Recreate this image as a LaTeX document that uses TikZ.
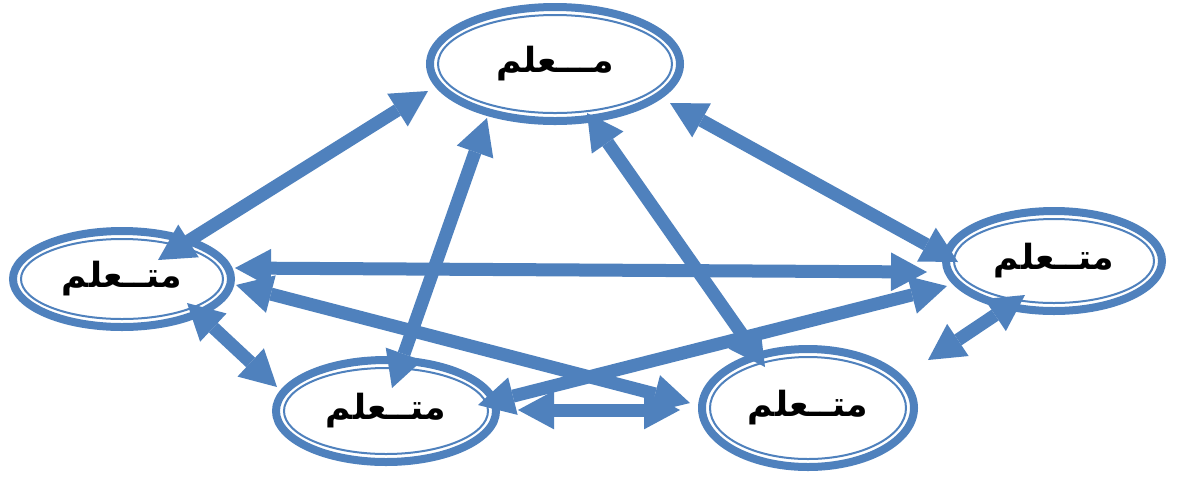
\documentclass[tikz,border=0pt]{standalone}
\usepackage{fontspec}
\usetikzlibrary{arrows.meta,shapes.geometric}
\TeXXeTstate=1
\newfontfamily\arabicfont[Script=Arabic]{DejaVu Sans}
\definecolor{myblue}{RGB}{79,129,189}
\begin{document}
\begin{tikzpicture}[x=0.75pt,y=-0.75pt,
  oval/.style={ellipse, draw=myblue, line width=6pt, fill=white, inner sep=0pt,
    font=\arabicfont\bfseries\fontsize{26}{30}\selectfont},
  innerring/.style={draw=myblue, line width=1.5pt},
  link/.style={draw=myblue, line width=9.75pt,
    {Triangle[width=29pt,length=27pt,line width=0pt]}-{Triangle[width=29pt,length=27pt,line width=0pt]}}
]
\useasboundingbox[fill=white] (0,0) rectangle (1178,480);

% ellipses
\node[oval, minimum width=187.5pt, minimum height=85.5pt] (T) at (555,64) {\beginR مـــعلم\endR};
\draw[innerring] (T.center) ellipse [x radius=87.75pt, y radius=36.75pt];

\node[oval, minimum width=163.5pt, minimum height=72pt] (L) at (122,279) {\beginR متــعلم\endR};
\draw[innerring] (L.center) ellipse [x radius=75.75pt, y radius=30pt];

\node[oval, minimum width=165pt, minimum height=76.5pt] (BL) at (386,411) {\beginR متــعلم\endR};
\draw[innerring] (BL.center) ellipse [x radius=76.5pt, y radius=32.25pt];

\node[oval, minimum width=159pt, minimum height=88.5pt] (BR) at (808,408) {\beginR متــعلم\endR};
\draw[innerring] (BR.center) ellipse [x radius=73.5pt, y radius=38.25pt];

\node[oval, minimum width=162pt, minimum height=75pt] (R) at (1054,261) {\beginR متــعلم\endR};
\draw[innerring] (R.center) ellipse [x radius=75pt, y radius=31.5pt];

% arrow end points
\coordinate (a1s) at (158,260);  \coordinate (a1e) at (428,91);
\coordinate (a2s) at (235,268);  \coordinate (a2e) at (927,272);
\coordinate (a3s) at (670,103);  \coordinate (a3e) at (958,262);
\coordinate (a4s) at (487,118);  \coordinate (a4e) at (392,388);
\coordinate (a5s) at (587,113);  \coordinate (a5e) at (765,367);
\coordinate (a6s) at (236,285);  \coordinate (a6e) at (690,403);
\coordinate (a7s) at (478,405);  \coordinate (a7e) at (947,286);
\coordinate (a8s) at (518,410);  \coordinate (a8e) at (680,410);
\coordinate (a9s) at (187,303);  \coordinate (a9e) at (277,387);
\coordinate (a10s) at (1025,295); \coordinate (a10e) at (928,360);

% arrows
\draw[link] (a1s) -- (a1e);
\draw[link] (a2s) -- (a2e);
\draw[link] (a3s) -- (a3e);
\draw[link] (a4s) -- (a4e);
\draw[link] (a5s) -- (a5e);
\draw[link] (a6s) -- (a6e);
\draw[link] (a7s) -- (a7e);
\draw[link] (a8s) -- (a8e);
\draw[link] (a9s) -- (a9e);
\draw[link] (a10s) -- (a10e);
\end{tikzpicture}
\end{document}
